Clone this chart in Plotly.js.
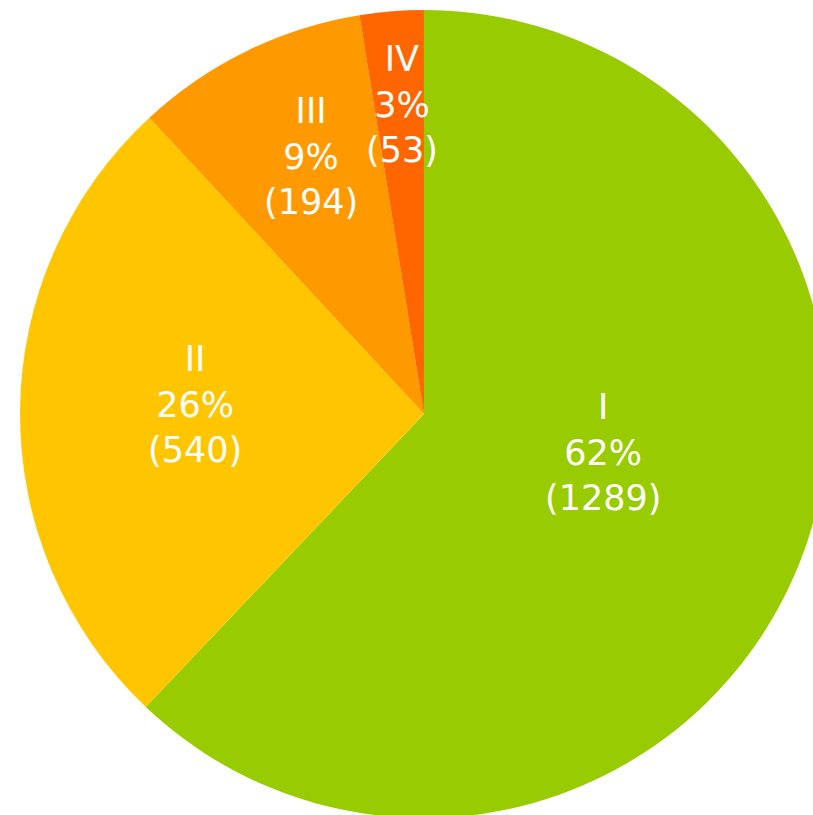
<!DOCTYPE html>
<html>
<head>
<meta charset="utf-8">
<script src="https://cdn.plot.ly/plotly-3.0.1.min.js"></script>
<style>
html,body{margin:0;padding:0;overflow:hidden;width:813px;height:815px;background:#fff;}
#chart{width:828px;height:818px;}
</style>
</head>
<body>
<div id="chart"></div>
<script>
const categories = ["I", "II", "III", "IV"];
const values = [1289, 540, 194, 53];
const percentLabels = ["62%", "26%", "9%", "3%"];
const colors = ["#99CC00", "#FFC600", "#FF9900", "#FF6600"];

// label placement (fraction of radius, angle clockwise from 12 o'clock, degrees)
const labelRadius = [0.453, 0.567, 0.695, 0.767];
const labelAngle = [102.3, 272.5, 336.3, 355.9];

const annotations = categories.map((c, i) => {
  const a = labelAngle[i] * Math.PI / 180;
  return {
    xref: "paper", yref: "paper",
    x: 0.5 + 0.5 * labelRadius[i] * Math.sin(a),
    y: 0.5 + 0.5 * labelRadius[i] * Math.cos(a),
    xanchor: "center", yanchor: "middle",
    showarrow: false,
    align: "center",
    text: c + "<br>" + percentLabels[i] + "<br>(" + values[i] + ")",
    font: {family: "'DejaVu Sans', sans-serif", size: 35, color: "#ffffff"}
  };
});

Plotly.newPlot("chart", [{
  type: "pie",
  labels: categories,
  values: values,
  textinfo: "none",
  hoverinfo: "none",
  sort: false,
  direction: "clockwise",
  rotation: 0,
  marker: {colors: colors, line: {width: 0}},
  showlegend: false
}], {
  width: 828, height: 818,
  margin: {l: 20, r: 0, t: 10, b: 0},
  paper_bgcolor: "#ffffff",
  showlegend: false,
  annotations: annotations
}, {staticPlot: true, displayModeBar: false});
</script>
</body>
</html>
